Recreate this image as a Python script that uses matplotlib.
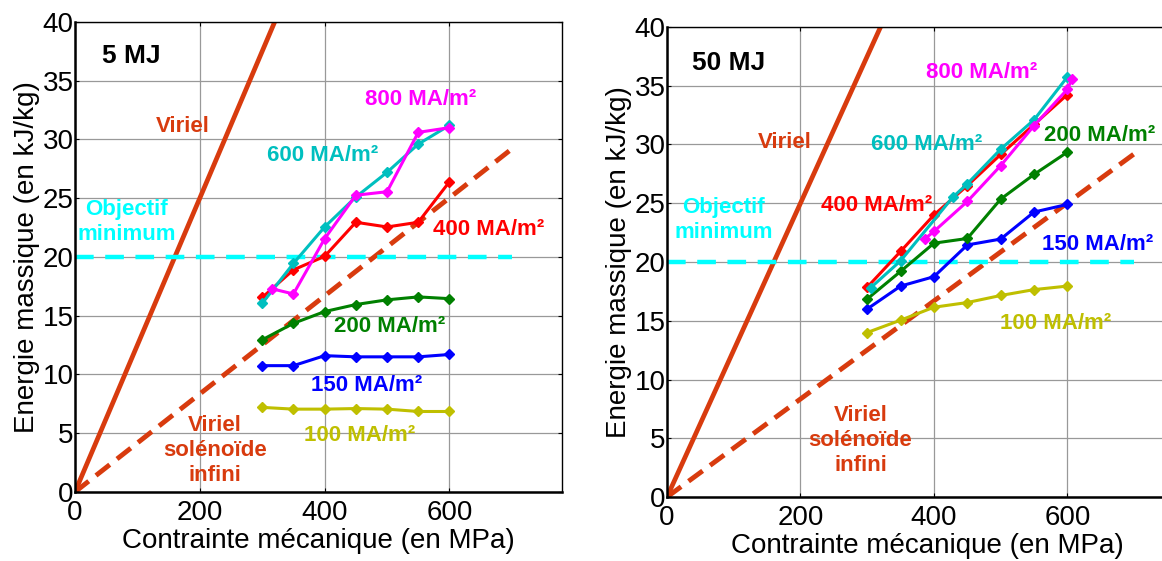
import matplotlib
matplotlib.use('Agg')
import matplotlib.pyplot as plt
import numpy as np

plt.rcParams['font.family'] = ['Liberation Sans', 'DejaVu Sans']

# contrainte (MPa)
x = [300, 350, 400, 450, 500, 550, 600]

# 5 MJ
e5_100 = [7.2, 7.05, 7.05, 7.1, 7.05, 6.85, 6.85]
e5_150 = [10.75, 10.75, 11.6, 11.5, 11.5, 11.5, 11.7]
e5_200 = [12.95, 14.35, 15.35, 15.95, 16.35, 16.6, 16.45]
e5_400 = [16.55, 18.9, 20.05, 22.95, 22.55, 22.95, 26.4]
e5_600 = [16.05, 19.45, 22.55, 25.1, 27.2, 29.6, 31.2]
x5_800 = [315, 350, 400, 450, 500, 550, 600]
e5_800 = [17.3, 16.85, 21.55, 25.25, 25.55, 30.6, 31.0]

# 50 MJ
e50_100 = [14.0, 15.05, 16.15, 16.55, 17.15, 17.65, 17.95]
e50_150 = [16.0, 17.95, 18.75, 21.45, 21.95, 24.25, 24.9]
e50_200 = [16.85, 19.2, 21.6, 22.0, 25.35, 27.45, 29.35]
e50_400 = [17.85, 20.9, 24.0, 26.5, 29.15, 31.7, 34.25]
x50_600 = [305, 350, 428, 450, 500, 550, 600]
e50_600 = [17.8, 20.1, 25.5, 26.65, 29.6, 32.1, 35.75]
x50_800 = [386, 400, 450, 500, 550, 600, 607]
e50_800 = [21.95, 22.6, 25.15, 28.2, 31.6, 34.7, 35.6]

# limites theoriques
virial_x = [0, 320]
virial_y = [0, 40]
solenoide_x = [0, 700]
solenoide_y = [0, 29.2]
objectif_x = [0, 700]
objectif_y = [20, 20]

ORANGE = '#d83b0e'
CYAN = '#00ffff'
C600 = '#00bfbf'
cols = {'100': '#bfbf00', '150': '#0000ff', '200': '#008000',
        '400': '#ff0000', '600': C600, '800': '#ff00ff'}


def panel(ax, series, title, labels):
	ax.plot(virial_x, virial_y, color=ORANGE, lw=3.4, solid_capstyle='butt')
	ax.plot(solenoide_x, solenoide_y, color=ORANGE, lw=3.5, dashes=(3.6, 1.9))
	ax.plot(objectif_x, objectif_y, color=CYAN, lw=3.2, dashes=(4.2, 2.6))
	for key, (xs, ys) in series.items():
		ax.plot(xs, ys, color=cols[key], lw=2.2, marker='D', ms=5.5,
			mec=cols[key], mfc=cols[key])
	ax.set_xlim(0, 780)
	ax.set_ylim(0, 40)
	ax.set_xticks([0, 200, 400, 600])
	ax.set_yticks(range(0, 41, 5))
	ax.grid(True, color='#999999', lw=0.9)
	ax.set_axisbelow(True)
	ax.tick_params(direction='in', length=3, labelsize=20, pad=1,
		top=True, right=True)
	ax.tick_params(axis='x', pad=6)
	for s in ax.spines.values():
		s.set_linewidth(1.0)
	ax.spines['bottom'].set_linewidth(1.8)
	ax.spines['left'].set_linewidth(1.8)
	ax.set_xlabel('Contrainte mécanique (en MPa)', fontsize=20, labelpad=1)
	ax.set_ylabel('Energie massique (en kJ/kg)', fontsize=20, labelpad=2)
	ax.text(title[1], title[2], title[0], fontsize=19, fontweight='bold',
		ha='left', va='center', color='black')
	for txt, px, py, c in labels:
		ax.text(px, py, txt, fontsize=16, fontweight='bold', color=c,
			ha='center', va='center', linespacing=1.25)


fig = plt.figure(figsize=(11.62, 5.61), dpi=100)
ax1 = fig.add_axes([0.0645, 0.123, 0.419, 0.838])
ax2 = fig.add_axes([0.574, 0.114, 0.448, 0.838])

panel(ax1, {'100': (x, e5_100), '150': (x, e5_150), '200': (x, e5_200),
		'400': (x, e5_400), '600': (x, e5_600), '800': (x5_800, e5_800)},
	('5 MJ', 43, 37.1),
	[('Viriel', 172, 31.1, ORANGE),
	 ('Objectif\nminimum', 83, 23.0, CYAN),
	 ('800 MA/m²', 553, 33.4, cols['800']),
	 ('600 MA/m²', 397, 28.6, cols['600']),
	 ('400 MA/m²', 663, 22.3, cols['400']),
	 ('200 MA/m²', 504, 14.05, cols['200']),
	 ('150 MA/m²', 467, 9.1, cols['150']),
	 ('100 MA/m²', 456, 4.8, cols['100']),
	 ('Viriel\nsolénoïde\ninfini', 224, 3.5, ORANGE)])

panel(ax2, {'100': (x, e50_100), '150': (x, e50_150), '200': (x, e50_200),
		'400': (x, e50_400), '600': (x50_600, e50_600), '800': (x50_800, e50_800)},
	('50 MJ', 37, 36.9),
	[('Viriel', 177, 30.2, ORANGE),
	 ('Objectif\nminimum', 85, 23.6, CYAN),
	 ('800 MA/m²', 471, 36.1, cols['800']),
	 ('600 MA/m²', 389, 30.0, cols['600']),
	 ('400 MA/m²', 314, 24.8, cols['400']),
	 ('200 MA/m²', 648, 30.8, cols['200']),
	 ('150 MA/m²', 645, 21.5, cols['150']),
	 ('100 MA/m²', 583, 14.8, cols['100']),
	 ('Viriel\nsolénoïde\ninfini', 290, 4.8, ORANGE)])

fig.savefig('out.png', dpi=100)
